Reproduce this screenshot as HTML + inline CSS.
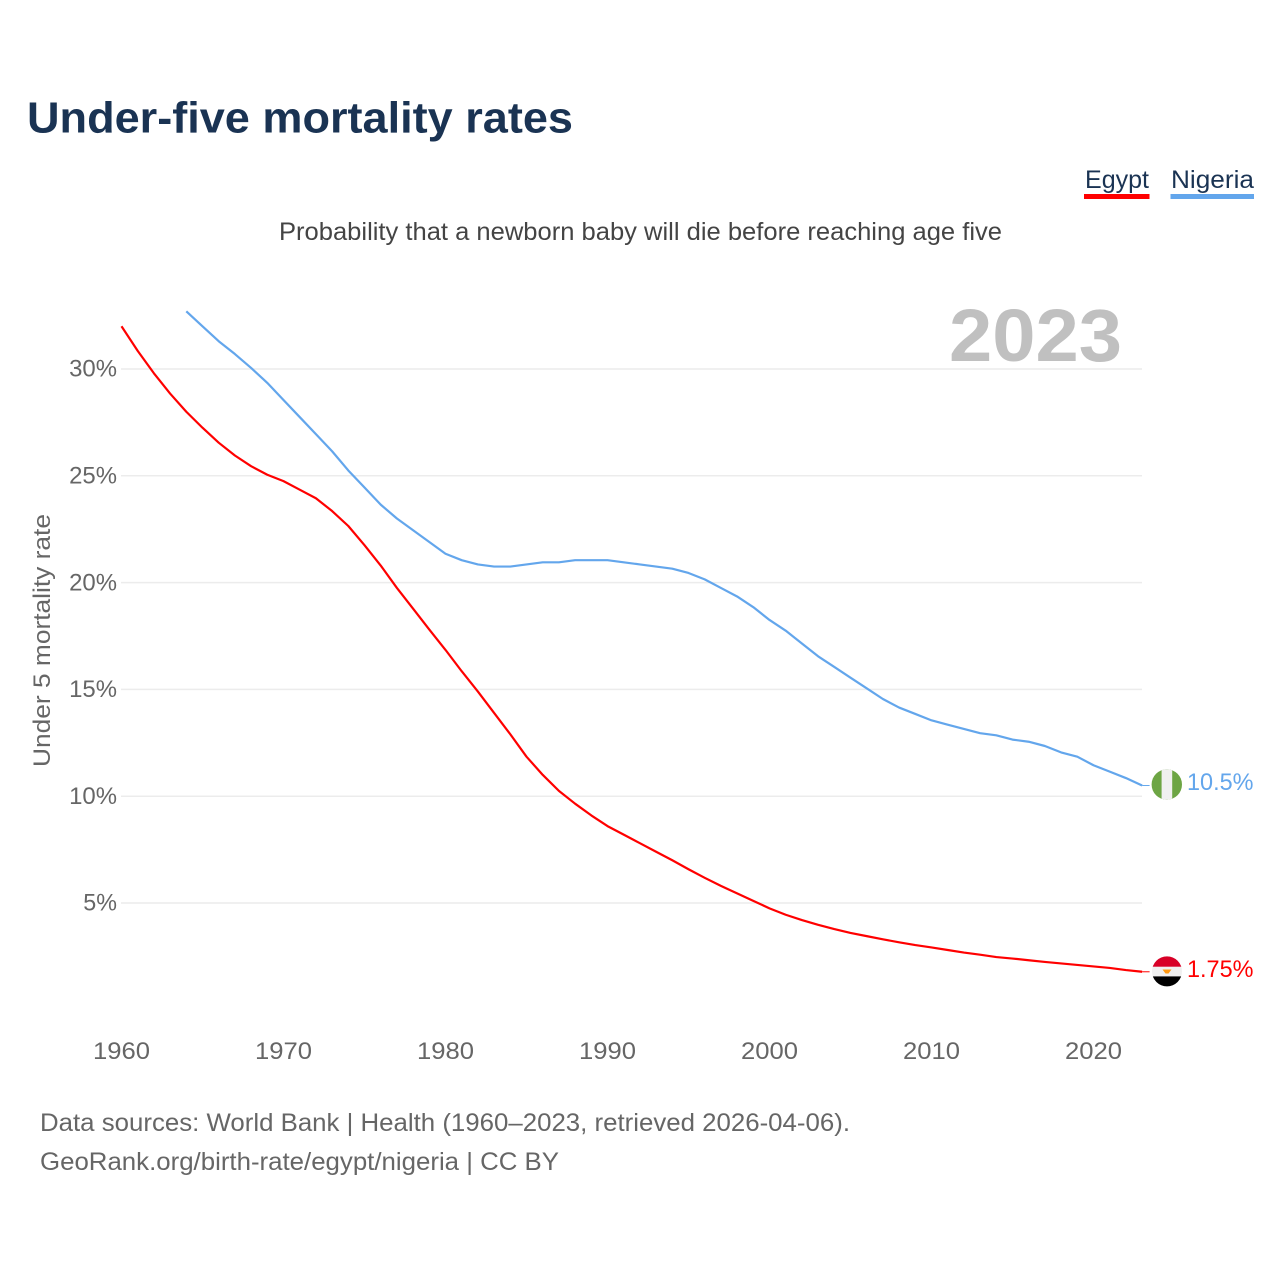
<!DOCTYPE html>
<html lang="en">
<head>
<meta charset="utf-8">
<title>Under-five mortality rates</title>
<style>
html,body{margin:0;padding:0;background:#fff;}
svg{display:block;font-family:"Liberation Sans",sans-serif;}
</style>
</head>
<body>
<svg id="chart" width="1280" height="1280" viewBox="0 0 1280 1280" xmlns="http://www.w3.org/2000/svg">
  <rect width="1280" height="1280" fill="#ffffff"/>
  <defs>
    <clipPath id="clip-ng"><circle cx="1166.8" cy="784.5" r="15.2"/></clipPath>
    <clipPath id="clip-eg"><circle cx="1167" cy="971.4" r="15"/></clipPath>
  </defs>
  <text x="27" y="132.5" font-size="44" font-weight="700" fill="#1a3353" textLength="546" lengthAdjust="spacingAndGlyphs">Under-five mortality rates</text>
  <g>
    <g>
      <text x="1085" y="188" font-size="25" fill="#1a3353" textLength="64" lengthAdjust="spacingAndGlyphs">Egypt</text>
      <rect x="1084" y="194" width="65.5" height="5" fill="#ff0000"/>
    </g>
    <g>
      <text x="1171" y="188" font-size="25" fill="#1a3353" textLength="83" lengthAdjust="spacingAndGlyphs">Nigeria</text>
      <rect x="1170.5" y="194" width="83.5" height="5" fill="#63a6ec"/>
    </g>
  </g>
  <text x="279" y="240" font-size="25" fill="#444444" textLength="723" lengthAdjust="spacingAndGlyphs">Probability that a newborn baby will die before reaching age five</text>
  <g id="grid"></g>
  <text x="949" y="361" font-size="74" font-weight="700" fill="#c0c0c0" textLength="173" lengthAdjust="spacingAndGlyphs">2023</text>
  <text transform="translate(50,767) rotate(-90)" font-size="24" fill="#666666" textLength="253" lengthAdjust="spacingAndGlyphs">Under 5 mortality rate</text>
  <g id="yticks"></g>
  <g id="xticks"></g>
  <g id="series"></g>
  <g clip-path="url(#clip-ng)">
    <rect x="1150" y="768" width="34" height="34" fill="#6da544"/>
    <rect x="1161.6" y="768" width="10.6" height="34" fill="#f0f0f0"/>
  </g>
  <g clip-path="url(#clip-eg)">
    <rect x="1150" y="955" width="34" height="12" fill="#d80027"/>
    <rect x="1150" y="966.7" width="34" height="10" fill="#f0f0f0"/>
    <rect x="1150" y="976.4" width="34" height="12" fill="#000000"/>
    <path d="M1162.5 969.5 L1171.5 969.5 L1168.5 973.5 L1165.5 973.5 Z" fill="#ff9811"/>
  </g>
  <text id="label-nigeria" x="1187" y="790" font-size="24" fill="#63a6ec" textLength="66.5" lengthAdjust="spacingAndGlyphs">10.5%</text>
  <text id="label-egypt" x="1187" y="977" font-size="24" fill="#ff0000" textLength="66.5" lengthAdjust="spacingAndGlyphs">1.75%</text>
  <text x="40" y="1131" font-size="25" fill="#666666" textLength="810" lengthAdjust="spacingAndGlyphs">Data sources: World Bank | Health (1960–2023, retrieved 2026-04-06).</text>
  <text x="40" y="1170" font-size="25" fill="#666666" textLength="519" lengthAdjust="spacingAndGlyphs">GeoRank.org/birth-rate/egypt/nigeria | CC BY</text>
</svg>
<script>
const xTickYears = [1960, 1970, 1980, 1990, 2000, 2010, 2020];
const yTickValues = [5, 10, 15, 20, 25, 30];
const yTickLabels = ['5%', '10%', '15%', '20%', '25%', '30%'];
const egyptStartYear = 1960;
const egyptValues = [32.0, 30.85, 29.8, 28.85, 28.0, 27.25, 26.55, 25.95, 25.45, 25.05,
  24.75, 24.35, 23.95, 23.35, 22.65, 21.75, 20.8, 19.75, 18.78, 17.8,
  16.85, 15.85, 14.9, 13.9, 12.9, 11.85, 11.0, 10.25, 9.65, 9.1,
  8.6, 8.2, 7.8, 7.4, 7.0, 6.58, 6.18, 5.8, 5.45, 5.1,
  4.75, 4.45, 4.2, 3.98, 3.78, 3.6, 3.45, 3.3, 3.16, 3.03,
  2.92, 2.8, 2.68, 2.58, 2.47, 2.4, 2.32, 2.24, 2.17, 2.1,
  2.03, 1.96, 1.86, 1.78];
const nigeriaStartYear = 1964;
const nigeriaValues = [32.7, 32.0, 31.3, 30.7, 30.05, 29.35, 28.55, 27.75, 26.95, 26.15,
  25.25, 24.45, 23.65, 23.0, 22.45, 21.9, 21.35, 21.05, 20.85, 20.75,
  20.75, 20.85, 20.95, 20.95, 21.05, 21.05, 21.05, 20.95, 20.85, 20.75,
  20.65, 20.45, 20.15, 19.75, 19.35, 18.85, 18.25, 17.75, 17.15, 16.55,
  16.05, 15.55, 15.05, 14.55, 14.15, 13.85, 13.55, 13.35, 13.15, 12.95,
  12.85, 12.65, 12.55, 12.35, 12.05, 11.85, 11.45, 11.15, 10.85, 10.5];

const NS = 'http://www.w3.org/2000/svg';
function xScale(year) { return 121.5 + (year - 1960) * 16.2; }
function yScale(value) { return 1009.8 - value * 21.36; }

function make(tag, attrs, parent, text) {
  const el = document.createElementNS(NS, tag);
  for (const k in attrs) el.setAttribute(k, attrs[k]);
  if (text !== undefined) el.textContent = text;
  parent.appendChild(el);
  return el;
}

const gridG = document.getElementById('grid');
const yG = document.getElementById('yticks');
yTickValues.forEach(function (v, i) {
  const line = make('line', { x1: 121, x2: 1142, y1: yScale(v), y2: yScale(v), stroke: '#ececec', 'stroke-width': 1.5 }, gridG);
  
  
  const label = yTickLabels[i];
  const w = (label.length - 1) * 14.2 + 19.5;
  const t = make('text', { x: 117 - w, y: yScale(v) + 7.7, 'font-size': 24, fill: '#666666', textLength: w, lengthAdjust: 'spacingAndGlyphs' }, yG, label);
  
  
});

const xG = document.getElementById('xticks');
xTickYears.forEach(function (yr) {
  const t = make('text', { x: xScale(yr) - 28.5, y: 1059, 'font-size': 24, fill: '#666666', textLength: 57, lengthAdjust: 'spacingAndGlyphs' }, xG, String(yr));
  
  
});

function drawSeries(values, startYear, color) {
  const pts = values.map(function (v, i) {
    return xScale(startYear + i).toFixed(2) + ',' + yScale(v).toFixed(2);
  }).join(' ');
  const g = document.getElementById('series');
  const line = make('polyline', { points: pts, fill: 'none', stroke: color, 'stroke-width': 2.2, 'stroke-linejoin': 'round' }, g);
  
  
  const last = values[values.length - 1];
  const lastYear = startYear + values.length - 1;
  const stub = make('line', { x1: xScale(lastYear), x2: xScale(lastYear) + 7.5, y1: yScale(last), y2: yScale(last), stroke: color, 'stroke-width': 1 }, g);
  
  
}
drawSeries(nigeriaValues, nigeriaStartYear, '#63a6ec');
drawSeries(egyptValues, egyptStartYear, '#ff0000');
</script>
</body>
</html>
